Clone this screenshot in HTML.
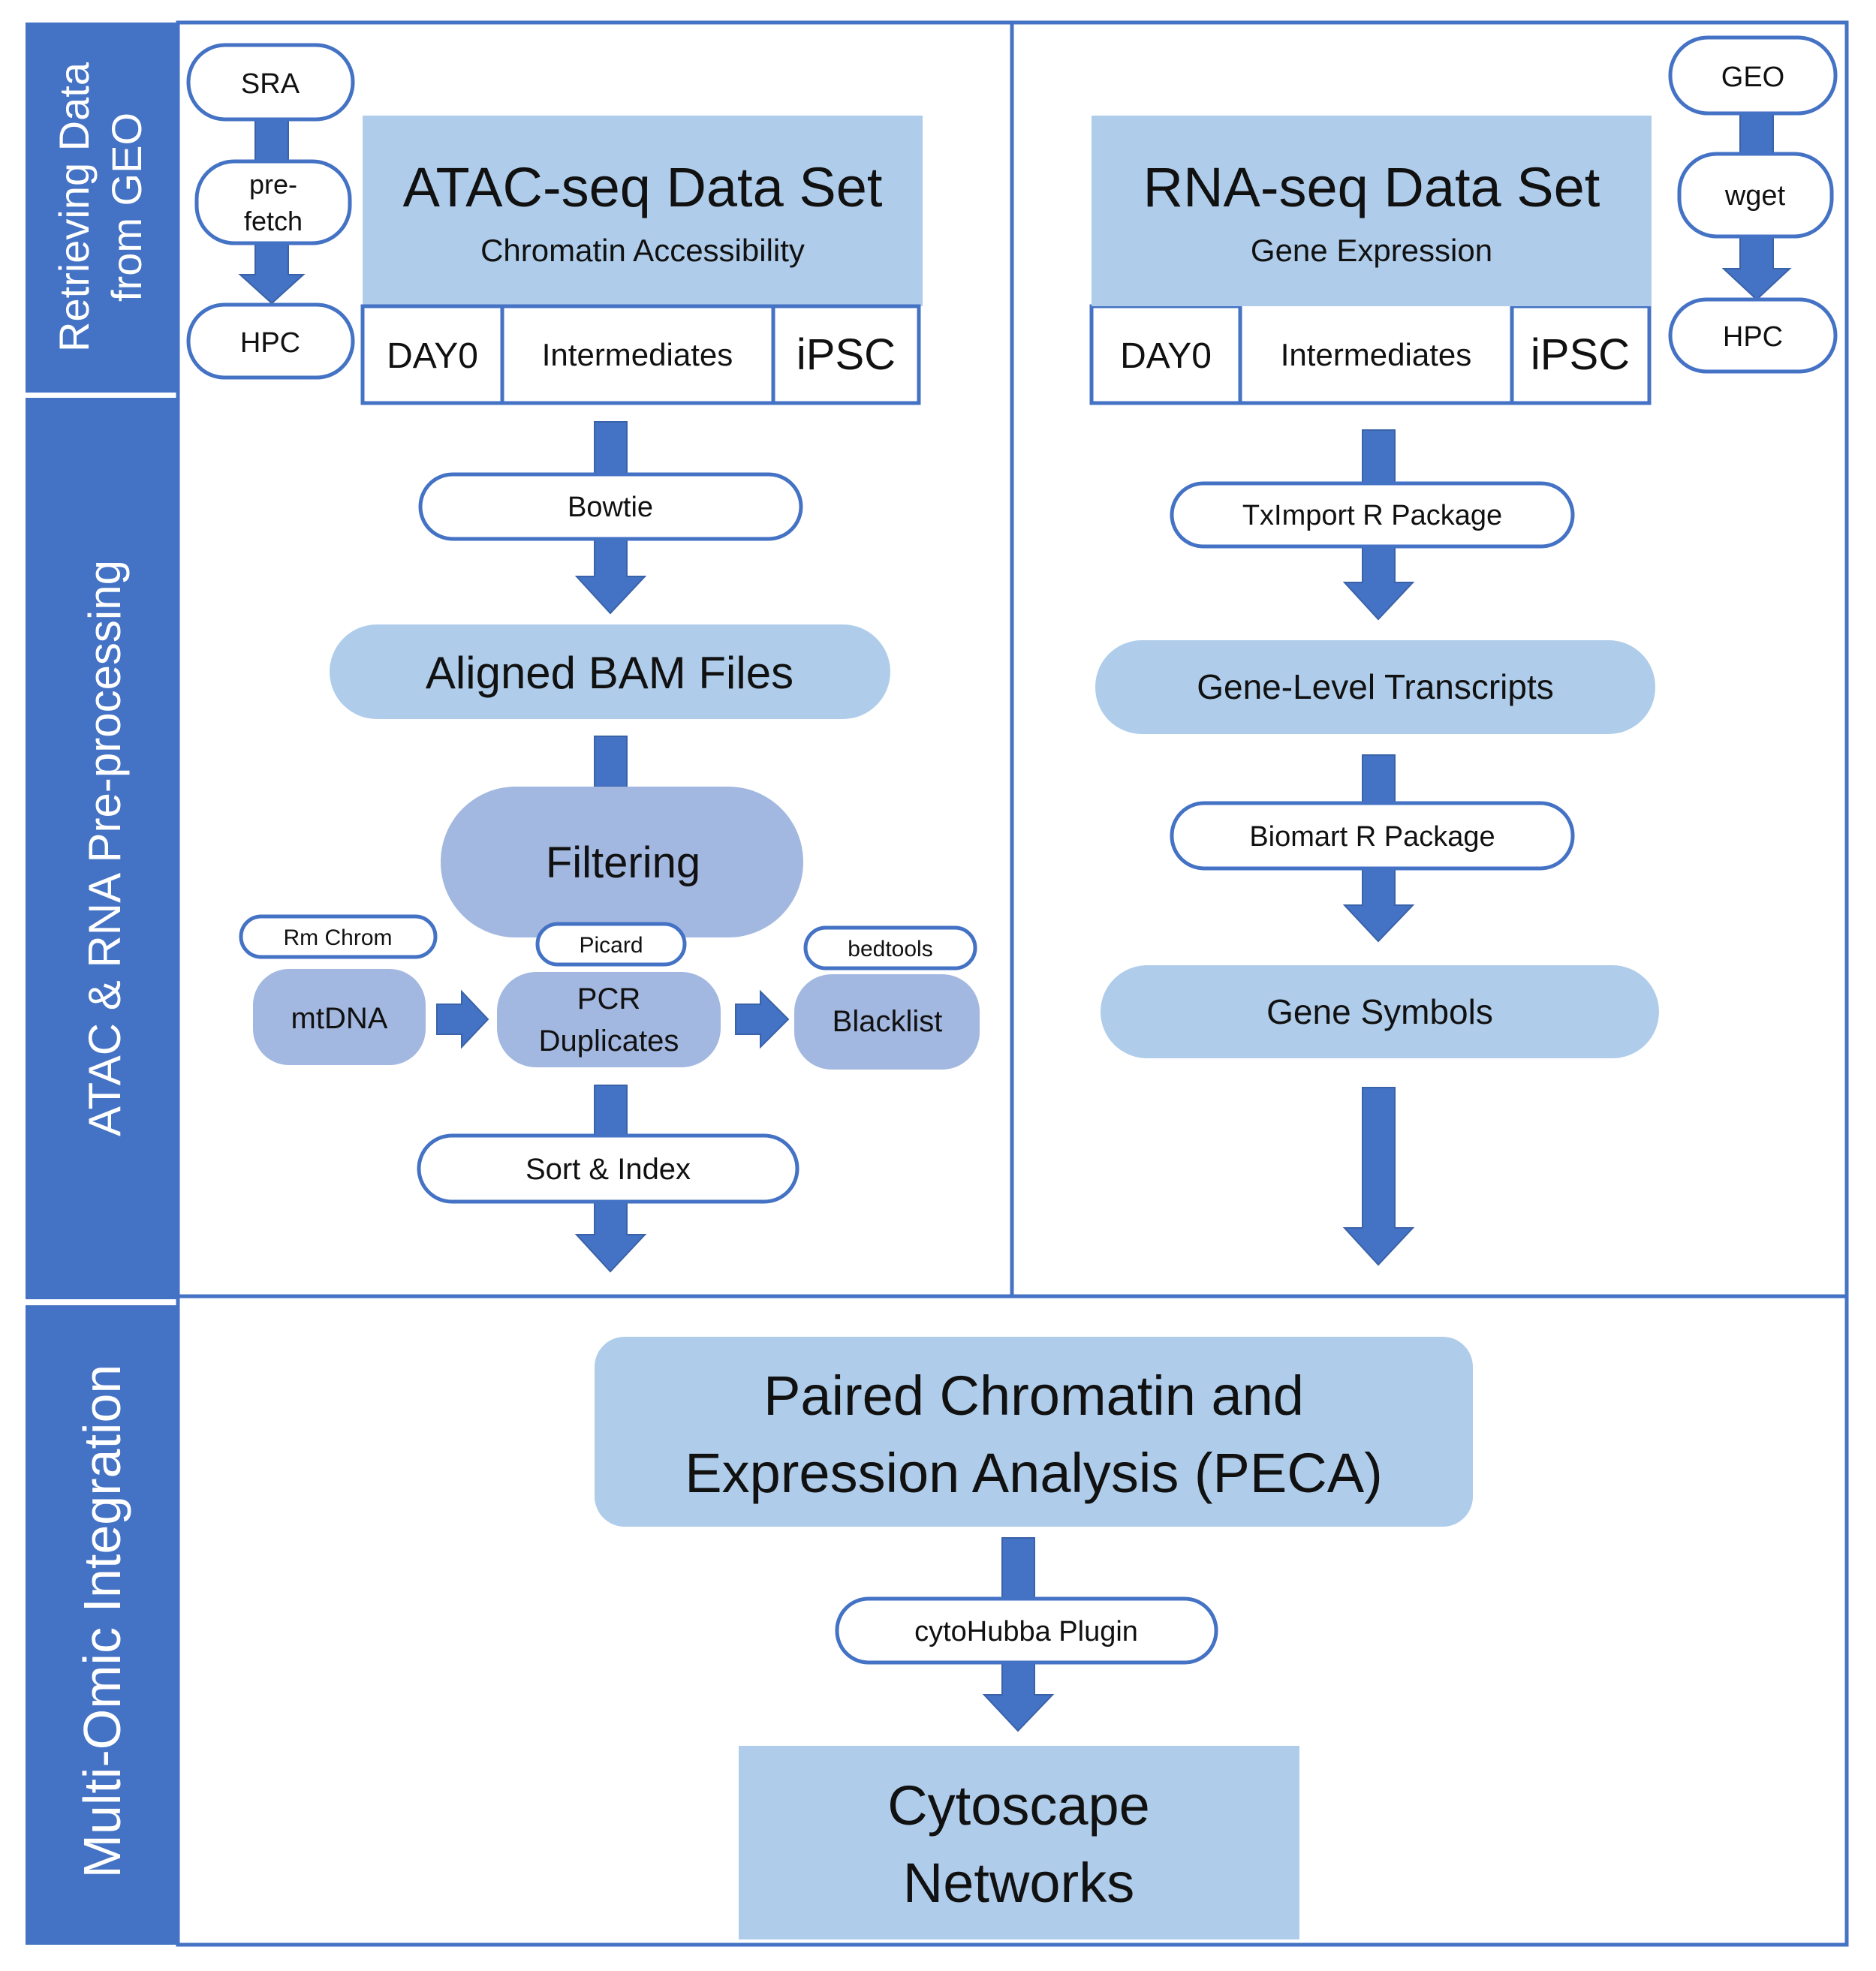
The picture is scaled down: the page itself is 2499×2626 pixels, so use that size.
<!DOCTYPE html>
<html><head><meta charset="utf-8"><style>
html,body{margin:0;padding:0;background:#fff}
svg{display:block}
text{font-family:"Liberation Sans",sans-serif;fill:#111}
.side{fill:#fff}
</style></head><body>
<svg width="2499" height="2626" viewBox="0 0 2499 2626" xmlns="http://www.w3.org/2000/svg">
<!-- sidebar -->
<rect x="34" y="30" width="201" height="493" fill="#4472c4"/>
<rect x="34" y="530" width="201" height="1201" fill="#4472c4"/>
<rect x="34" y="1739" width="201" height="852" fill="#4472c4"/>
<text class="side" transform="translate(118,276) rotate(-90)" text-anchor="middle" font-size="56">Retrieving Data</text>
<text class="side" transform="translate(188,276) rotate(-90)" text-anchor="middle" font-size="56">from GEO</text>
<text class="side" transform="translate(160,1130) rotate(-90)" text-anchor="middle" font-size="60">ATAC &amp; RNA Pre-processing</text>
<text class="side" transform="translate(160,2160) rotate(-90)" text-anchor="middle" font-size="70">Multi-Omic Integration</text>
<!-- frame -->
<g stroke="#4472c4" stroke-width="5" fill="none">
<rect x="237" y="30" width="2223" height="2561"/>
<line x1="1348" y1="30" x2="1348" y2="1727"/>
<line x1="237" y1="1727" x2="2460" y2="1727"/>
</g>
<!-- arrows -->
<g fill="#4472c4" stroke="#3a62a8" stroke-width="2">
<rect x="340" y="159" width="44" height="56"/>
<polygon points="340,324 384,324 384,366 404,366 362,404 320,366 340,366"/>
<rect x="792" y="562" width="43" height="72"/>
<polygon points="792,718 835,718 835,768 859,768 813,817 768,768 792,768"/>
<rect x="792" y="981" width="43" height="67"/>
<polygon points="582,1338 615,1338 615,1321 650,1358 615,1395 615,1378 582,1378"/>
<polygon points="980,1338 1013,1338 1013,1321 1050,1358 1013,1395 1013,1378 980,1378"/>
<rect x="792" y="1446" width="43" height="67"/>
<polygon points="792,1601 835,1601 835,1645 859,1645 813,1694 768,1645 792,1645"/>
<rect x="2318" y="151" width="44" height="54"/>
<polygon points="2318,315 2362,315 2362,358 2384,358 2340,399 2296,358 2318,358"/>
<rect x="1815" y="573" width="43" height="71"/>
<polygon points="1815,728 1858,728 1858,776 1882,776 1836,825 1791,776 1815,776"/>
<rect x="1815" y="1006" width="43" height="64"/>
<polygon points="1815,1157 1858,1157 1858,1206 1882,1206 1836,1254 1791,1206 1815,1206"/>
<polygon points="1815,1449 1858,1449 1858,1636 1882,1636 1836,1685 1791,1636 1815,1636"/>
<rect x="1335" y="2049" width="43" height="81"/>
<polygon points="1335,2215 1378,2215 1378,2258 1402,2258 1356,2306 1311,2258 1335,2258"/>
</g>
<!-- ATAC box -->
<rect x="483" y="154" width="746" height="254" fill="#afcdea"/>
<text x="856" y="275" text-anchor="middle" font-size="74">ATAC-seq Data Set</text>
<text x="856" y="348" text-anchor="middle" font-size="42">Chromatin Accessibility</text>
<g fill="#fff" stroke="#4472c4" stroke-width="5">
<rect x="483" y="408" width="186" height="129"/><rect x="669" y="408" width="361" height="129"/><rect x="1030" y="408" width="194" height="129"/>
<rect x="1454" y="408" width="198" height="129"/><rect x="1652" y="404" width="362" height="133"/><rect x="2014" y="408" width="183" height="129"/>
</g>
<text x="576" y="490" text-anchor="middle" font-size="48">DAY0</text>
<text x="849" y="487" text-anchor="middle" font-size="42">Intermediates</text>
<text x="1127" y="492" text-anchor="middle" font-size="58">iPSC</text>
<!-- RNA box -->
<rect x="1454" y="154" width="746" height="254" fill="#afcdea"/>
<text x="1827" y="275" text-anchor="middle" font-size="74">RNA-seq Data Set</text>
<text x="1827" y="348" text-anchor="middle" font-size="42">Gene Expression</text>
<text x="1553" y="490" text-anchor="middle" font-size="48">DAY0</text>
<text x="1833" y="487" text-anchor="middle" font-size="42">Intermediates</text>
<text x="2105" y="492" text-anchor="middle" font-size="58">iPSC</text>
<!-- ellipses -->
<rect x="439" y="832" width="747" height="126" rx="63" fill="#afcdea"/>
<text x="812" y="917" text-anchor="middle" font-size="60">Aligned BAM Files</text>
<rect x="1459" y="853" width="746" height="125" rx="62" fill="#afcdea"/>
<text x="1832" y="931" text-anchor="middle" font-size="46">Gene-Level Transcripts</text>
<rect x="1466" y="1286" width="744" height="124" rx="62" fill="#afcdea"/>
<text x="1838" y="1364" text-anchor="middle" font-size="46">Gene Symbols</text>
<!-- filtering -->
<rect x="587" y="1048" width="483" height="201" rx="100" fill="#a3b8e0"/>
<text x="830" y="1169" text-anchor="middle" font-size="58">Filtering</text>
<rect x="337" y="1291" width="230" height="128" rx="48" fill="#a3b8e0"/>
<text x="452" y="1370" text-anchor="middle" font-size="40">mtDNA</text>
<rect x="662" y="1295" width="298" height="127" rx="52" fill="#a3b8e0"/>
<text x="811" y="1344" text-anchor="middle" font-size="40">PCR</text>
<text x="811" y="1400" text-anchor="middle" font-size="40">Duplicates</text>
<rect x="1058" y="1298" width="247" height="127" rx="50" fill="#a3b8e0"/>
<text x="1182" y="1374" text-anchor="middle" font-size="40">Blacklist</text>
<!-- pills -->
<g fill="#fff" stroke="#4472c4" stroke-width="5">
<rect x="251" y="60" width="219" height="99" rx="49"/>
<rect x="262" y="215" width="204" height="109" rx="50"/>
<rect x="251" y="406" width="219" height="97" rx="48"/>
<rect x="2225" y="50" width="220" height="101" rx="50"/>
<rect x="2237" y="205" width="203" height="110" rx="50"/>
<rect x="2225" y="399" width="220" height="96" rx="48"/>
<rect x="560" y="632" width="507" height="86" rx="43"/>
<rect x="1561" y="644" width="534" height="84" rx="42"/>
<rect x="1561" y="1070" width="534" height="87" rx="43"/>
<rect x="321" y="1221" width="259" height="54" rx="27"/>
<rect x="716" y="1231" width="196" height="54" rx="27"/>
<rect x="1073" y="1236" width="226" height="54" rx="27"/>
<rect x="558" y="1513" width="504" height="88" rx="44"/>
<rect x="1115" y="2130" width="505" height="85" rx="42"/>
</g>
<text x="360" y="124" text-anchor="middle" font-size="38">SRA</text>
<text x="364" y="258" text-anchor="middle" font-size="36">pre-</text>
<text x="364" y="307" text-anchor="middle" font-size="36">fetch</text>
<text x="360" y="469" text-anchor="middle" font-size="38">HPC</text>
<text x="2335" y="115" text-anchor="middle" font-size="38">GEO</text>
<text x="2338" y="273" text-anchor="middle" font-size="38">wget</text>
<text x="2335" y="461" text-anchor="middle" font-size="38">HPC</text>
<text x="813" y="688" text-anchor="middle" font-size="38">Bowtie</text>
<text x="1828" y="699" text-anchor="middle" font-size="38">TxImport R Package</text>
<text x="1828" y="1127" text-anchor="middle" font-size="38">Biomart R Package</text>
<text x="450" y="1259" text-anchor="middle" font-size="30">Rm Chrom</text>
<text x="814" y="1269" text-anchor="middle" font-size="30">Picard</text>
<text x="1186" y="1274" text-anchor="middle" font-size="30">bedtools</text>
<text x="810" y="1571" text-anchor="middle" font-size="40">Sort &amp; Index</text>
<text x="1367" y="2186" text-anchor="middle" font-size="38">cytoHubba Plugin</text>
<!-- bottom -->
<rect x="792" y="1781" width="1170" height="253" rx="40" fill="#afcdea"/>
<text x="1377" y="1885" text-anchor="middle" font-size="74">Paired Chromatin and</text>
<text x="1377" y="1988" text-anchor="middle" font-size="74">Expression Analysis (PECA)</text>
<rect x="984" y="2326" width="747" height="258" fill="#afcdea"/>
<text x="1357" y="2431" text-anchor="middle" font-size="74">Cytoscape</text>
<text x="1357" y="2534" text-anchor="middle" font-size="74">Networks</text>
</svg>
</body></html>
